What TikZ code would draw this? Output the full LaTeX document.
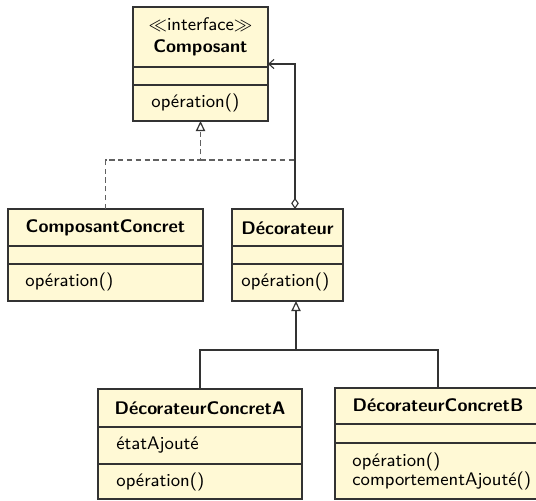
\documentclass[tikz,border=0pt]{standalone}
\usetikzlibrary{arrows.meta}
\definecolor{classfill}{HTML}{FFF9D5}
\definecolor{linegray}{HTML}{333333}
\begin{document}
\begin{tikzpicture}[x=0.5pt,y=-0.5pt,
  font=\sffamily\fontsize{9.1}{11}\selectfont,
  classbox/.style={draw=linegray,fill=classfill,line width=0.6pt,inner sep=0pt,outer sep=0pt},
  sepline/.style={draw=linegray,line width=0.6pt},
  title/.style={font=\sffamily\bfseries\fontsize{9.1}{11}\selectfont,inner sep=0pt},
  member/.style={anchor=west,inner sep=0pt},
  conn/.style={draw=linegray,line width=0.55pt},
  realize/.style={draw=black!62,line width=0.55pt,dash pattern=on 2.6pt off 1.8pt},
  opentri/.style={-{Triangle[open,length=5pt,width=4.6pt,line width=0.6pt,color=linegray]}},
  aggdiamond/.style={{Diamond[open,length=5.6pt,width=3.8pt,line width=0.55pt]}-{Straight Barb[length=2.6pt,width=4.6pt,line width=0.55pt]}}
]
\useasboundingbox (0,0) rectangle (536,500);

% Composant (interface)
\node[classbox,minimum width=67.5pt,minimum height=57pt,anchor=north west] (comp) at (133,7) {};
\draw[sepline] (133,67) -- (268,67) (133,85) -- (268,85);
\node[inner sep=0pt] (compst) at (200.5,25) {$\ll$interface$\gg$};
\node[title] (compt) at (200.5,48) {Composant};
\node[member] (compop) at (151,103) {opération()};

% ComposantConcret
\node[classbox,minimum width=97.5pt,minimum height=46pt,anchor=north west] (cc) at (8,209) {};
\draw[sepline] (8,246) -- (203,246) (8,264) -- (203,264);
\node[title] (cct) at (105.5,228) {ComposantConcret};
\node[member] (ccop) at (25,282) {opération()};

% Décorateur
\node[classbox,minimum width=55.5pt,minimum height=46pt,anchor=north west] (dec) at (232,209) {};
\draw[sepline] (232,246) -- (343,246) (232,264) -- (343,264);
\node[title] (dect) at (287.5,228) {Décorateur};
\node[member] (decop) at (241,282) {opération()};

% DécorateurConcretA
\node[classbox,minimum width=102pt,minimum height=55pt,anchor=north west] (dca) at (98,389) {};
\draw[sepline] (98,427) -- (302,427) (98,464) -- (302,464);
\node[title] (dcat) at (200,408) {DécorateurConcretA};
\node[member] (dcaat) at (116,445) {étatAjouté};
\node[member] (dcaop) at (116,482) {opération()};

% DécorateurConcretB
\node[classbox,minimum width=103pt,minimum height=55.5pt,anchor=north west] (dcb) at (335,388) {};
\draw[sepline] (335,424) -- (541,424) (335,443) -- (541,443);
\node[title] (dcbt) at (438,405) {DécorateurConcretB};
\node[member] (dcbop) at (352,462) {opération()};
\node[member] (dcbcb) at (352,481) {comportementAjouté()};

% junction points of the connectors
\coordinate (rj) at (200.5,160);
\coordinate (aggfoot) at (295,209);
\coordinate (aggtop) at (295,64);
\coordinate (compin) at (268,64);
\coordinate (gj) at (296,350);
\coordinate (decin) at (296,301);

% realization of Composant
\draw[realize,opentri] (cc.north) |- (rj) -- (comp.south);
\draw[realize] (rj) -- (rj -| aggfoot);

% aggregation Décorateur -> Composant
\draw[conn,aggdiamond] (aggfoot) -- (aggtop) -- (compin);

% inheritance of the concrete decorators
\draw[conn] (dca.north) |- (gj) -| (dcb.north);
\draw[conn,opentri] (gj) -- (decin);
\end{tikzpicture}
\end{document}
